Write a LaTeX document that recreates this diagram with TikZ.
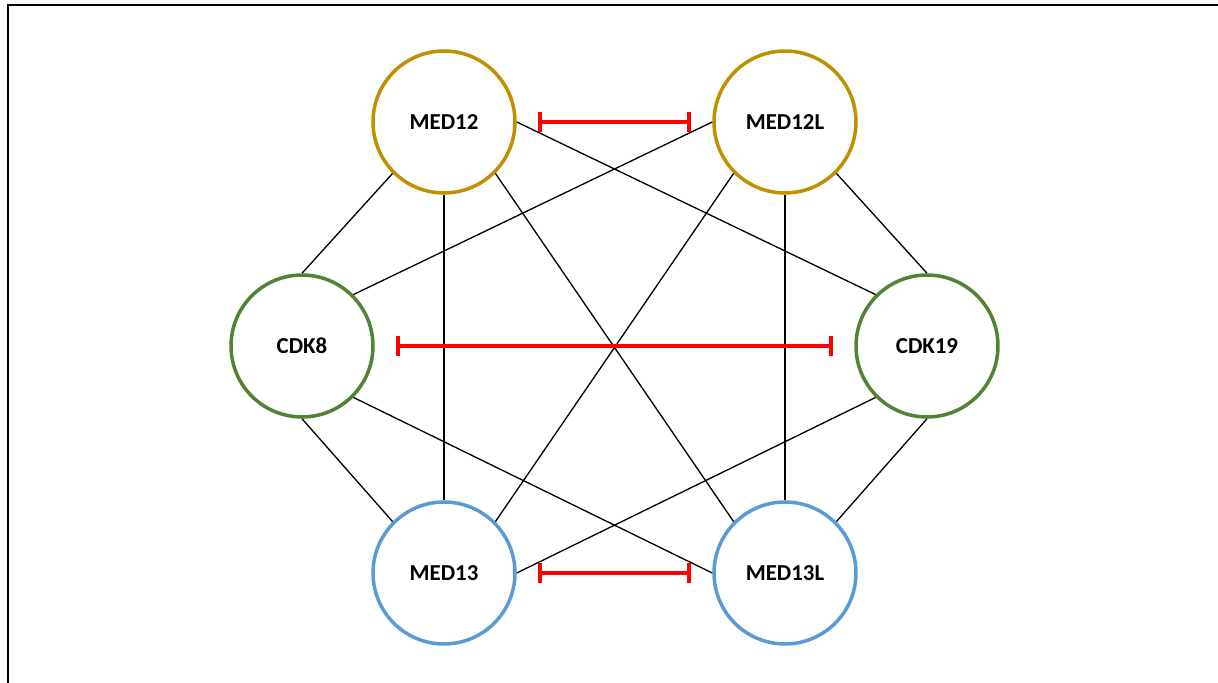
\documentclass[tikz,border=0pt]{standalone}
\usepackage{fontspec}
\setmainfont{Carlito}
\usetikzlibrary{arrows.meta, positioning}

\definecolor{medgold}{HTML}{BF9000}
\definecolor{cdkgreen}{HTML}{548235}
\definecolor{medblue}{HTML}{5B9BD5}

\begin{document}
\begin{tikzpicture}[x=0.02cm, y=0.02cm,
    gene/.style={circle, draw, line width=2pt, fill=white, minimum size=2.84cm, inner sep=0pt,
                 font=\fontsize{13}{15}\selectfont\bfseries},
    link/.style={black, line width=0.75pt},
    block/.style={red, line width=2.4pt, {Bar[width=11pt]}-{Bar[width=11pt]}, shorten <=0.42cm, shorten >=0.42cm}]
    \useasboundingbox (0,0) rectangle (1218,683);

    % Frame
    \draw[line width=1.6pt] (8,0) -- (8,678) -- (1218,678);

    % Genes
    \node[gene, draw=medgold] (MED12) at (444,561) {MED12};
    \node[gene, draw=medgold] (MED12L) at (785,561) {MED12L};
    \node[gene, draw=cdkgreen] (CDK8) at (302,337) {CDK8};
    \node[gene, draw=cdkgreen] (CDK19) at (927,337) {CDK19};
    \node[gene, draw=medblue] (MED13) at (444,110) {MED13};
    \node[gene, draw=medblue] (MED13L) at (785,110) {MED13L};

    % Black links
    \draw[link] (MED12.225) -- (CDK8.90);
    \draw[link] (MED12.270) -- (MED13.90);
    \draw[link] (MED12.315) -- (MED13L.135);
    \draw[link] (MED12.0) -- (CDK19.135);
    \draw[link] (MED12L.180) -- (CDK8.45);
    \draw[link] (MED12L.225) -- (MED13.45);
    \draw[link] (MED12L.270) -- (MED13L.90);
    \draw[link] (MED12L.315) -- (CDK19.90);
    \draw[link] (CDK8.315) -- (MED13L.180);
    \draw[link] (CDK8.270) -- (MED13.135);
    \draw[link] (CDK19.225) -- (MED13.0);
    \draw[link] (CDK19.270) -- (MED13L.45);

    % Mutual exclusion (red)
    \draw[block] (MED12.0) -- (MED12L.180);
    \draw[block] (CDK8.0) -- (CDK19.180);
    \draw[block] (MED13.0) -- (MED13L.180);
\end{tikzpicture}
\end{document}
